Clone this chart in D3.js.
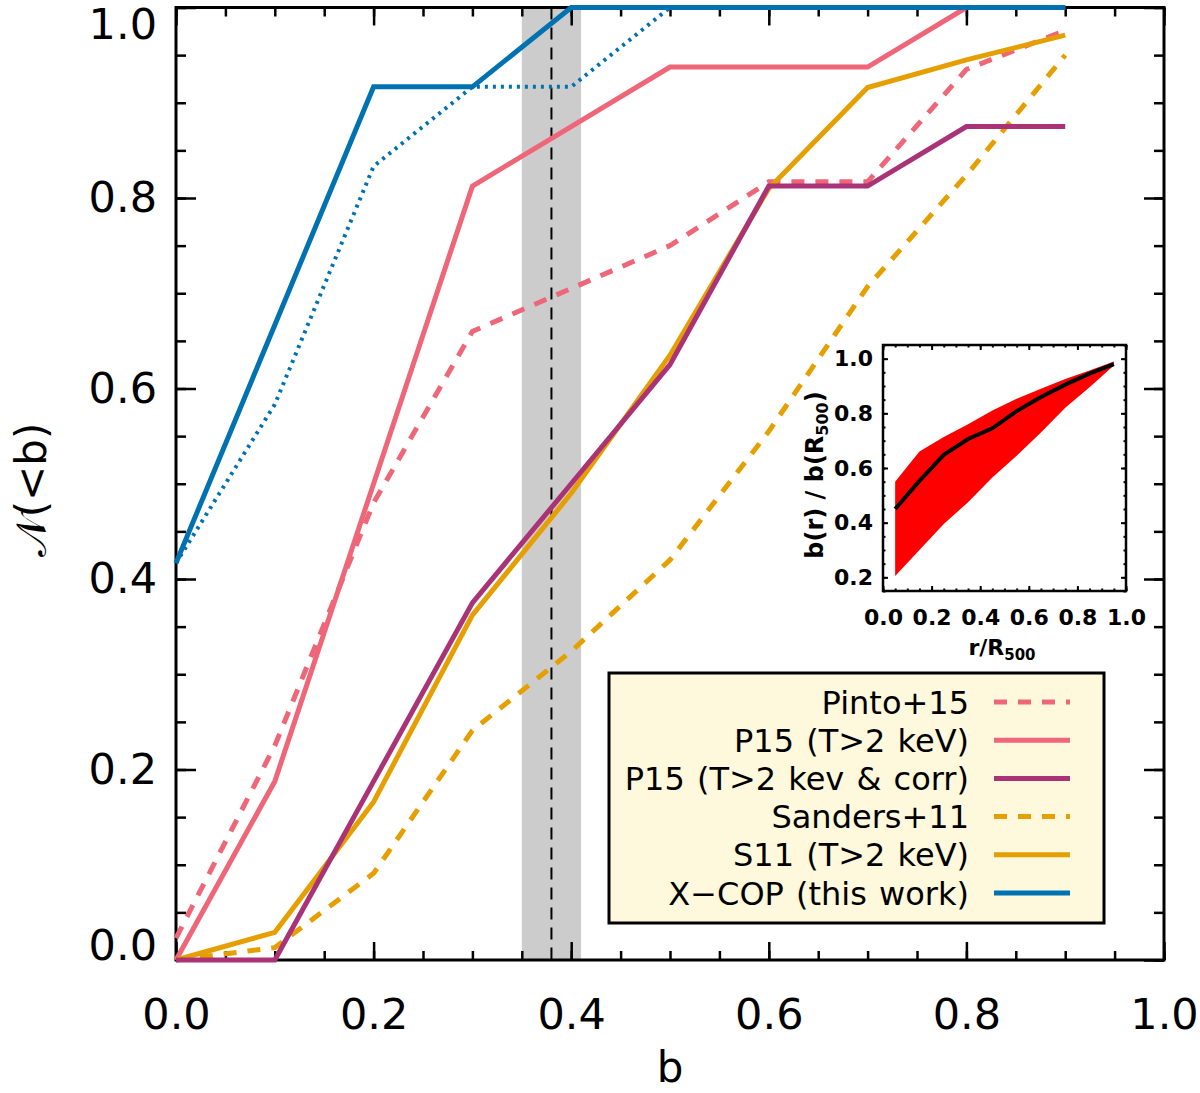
<!DOCTYPE html>
<html>
<head>
<meta charset="utf-8">
<script src="https://cdn.jsdelivr.net/npm/d3@7"></script>
<style>
  body { margin: 0; background: #fff; }
  text { font-family: "DejaVu Sans", sans-serif; }
</style>
</head>
<body>
<svg id="chart"></svg>
<script>
// b grid of the cumulative distributions
const bValues = [0, 0.1, 0.2, 0.3, 0.4, 0.5, 0.6, 0.7, 0.8, 0.9];

const pinto15   = [0.023, 0.225, 0.48, 0.66, 0.705, 0.75, 0.817, 0.817, 0.935, 0.976];
const p15T2     = [0, 0.1875, 0.5, 0.8125, 0.875, 0.9375, 0.9375, 0.9375, 1.0, 1.0];
const p15Corr   = [0, 0, 0.1875, 0.375, 0.5, 0.625, 0.8125, 0.8125, 0.875, 0.875];
const sanders11 = [0, 0.013, 0.091, 0.241, 0.324, 0.42, 0.555, 0.707, 0.824, 0.95];
const s11T2     = [0, 0.029, 0.166, 0.362, 0.49, 0.635, 0.81, 0.916, 0.945, 0.971];
const xcop      = [0.4167, 0.6667, 0.9167, 0.9167, 1, 1, 1, 1, 1, 1];
const xcopDot   = [0.4167, 0.5833, 0.8333, 0.9167, 0.9167, 1, 1, 1, 1, 1];

// grey band and its centre
const bandRange = [0.35, 0.41];
const bandMid = 0.38;

const legendLabels = ["Pinto+15", "P15 (T>2 keV)", "P15 (T>2 kev & corr)",
                      "Sanders+11", "S11 (T>2 keV)", "X\u2212COP (this work)"];

const mainTicks = [0, 0.2, 0.4, 0.6, 0.8, 1.0];

// inset: b(r)/b(R500)
const rValues  = [0.05, 0.15, 0.25, 0.35, 0.45, 0.55, 0.65, 0.75, 0.85, 0.95];
const bRatio   = [0.45, 0.553, 0.648, 0.706, 0.745, 0.808, 0.86, 0.905, 0.945, 0.98];
const bRatioHi = [0.55, 0.66, 0.713, 0.76, 0.81, 0.853, 0.89, 0.926, 0.957, 0.99];
const bRatioLo = [0.205, 0.30, 0.395, 0.475, 0.565, 0.645, 0.73, 0.82, 0.895, 0.975];
const insetXTicks = [0, 0.2, 0.4, 0.6, 0.8, 1.0];
const insetYTicks = [0.2, 0.4, 0.6, 0.8, 1.0];

const pink = "#EE6677", purple = "#AA3377", orange = "#E69F00", blue = "#0072B2";

const series = [
    {y: pinto15,   color: pink,   dash: "13,11", width: 5, legend: 0},
    {y: p15T2,     color: pink,   dash: null,    width: 5, legend: 1},
    {y: sanders11, color: orange, dash: "13,11", width: 5, legend: 3},
    {y: s11T2,     color: orange, dash: null,    width: 5, legend: 4},
    {y: p15Corr,   color: purple, dash: null,    width: 5, legend: 2},
    {y: xcopDot,   color: blue,   dash: "3,5",   width: 4, legend: null},
    {y: xcop,      color: blue,   dash: null,    width: 5, legend: 5}
];

const W = 1200, H = 1093;
const svg = d3.select("#chart").attr("width", W).attr("height", H);

const plot = {left: 176, right: 1164, top: 7.5, bottom: 960};

const x = d3.scaleLinear().domain([0, 1]).range([plot.left, plot.right]);
const y = d3.scaleLinear().domain([0, 1]).range([plot.bottom, plot.top]);

// band + dashed line
svg.append("rect")
    .attr("x", x(bandRange[0])).attr("y", plot.top)
    .attr("width", x(bandRange[1]) - x(bandRange[0]))
    .attr("height", plot.bottom - plot.top)
    .attr("fill", "#cccccc");

svg.append("line")
    .attr("x1", x(bandMid)).attr("x2", x(bandMid))
    .attr("y1", plot.top).attr("y2", plot.bottom)
    .attr("stroke", "#000").attr("stroke-width", 2)
    .attr("stroke-dasharray", "12,8");

// axes, ticks inward on all sides
const minorTicks = d3.range(0, 1.0001, 0.05).map(d => +d.toFixed(2));

function styleAxis(g) {
    g.select(".domain").remove();
    g.selectAll(".tick line").attr("stroke", "#000").attr("stroke-width", 2.5);
    g.selectAll(".tick text").attr("fill", "#000");
}

svg.append("g").attr("transform", `translate(0,${plot.bottom})`)
    .call(d3.axisBottom(x).tickValues(minorTicks).tickSize(-9).tickFormat(""))
    .call(styleAxis);
svg.append("g").attr("transform", `translate(0,${plot.bottom})`)
    .call(d3.axisBottom(x).tickValues(mainTicks).tickSize(-18).tickPadding(38).tickFormat(d3.format(".1f")))
    .call(styleAxis)
    .selectAll("text").attr("font-size", 43);
svg.append("g").attr("transform", `translate(0,${plot.top})`)
    .call(d3.axisTop(x).tickValues(minorTicks).tickSize(-9).tickFormat(""))
    .call(styleAxis);
svg.append("g").attr("transform", `translate(0,${plot.top})`)
    .call(d3.axisTop(x).tickValues(mainTicks).tickSize(-18).tickFormat(""))
    .call(styleAxis);

svg.append("g").attr("transform", `translate(${plot.left},0)`)
    .call(d3.axisLeft(y).tickValues(minorTicks).tickSize(-10).tickFormat(""))
    .call(styleAxis);
svg.append("g").attr("transform", `translate(${plot.left},0)`)
    .call(d3.axisLeft(y).tickValues(mainTicks).tickSize(-20).tickPadding(19).tickFormat(d3.format(".1f")))
    .call(styleAxis)
    .selectAll("text")
    .attr("font-size", 43)
    // end labels sit inside the frame, as in the original
    .attr("y", d => d === 1 ? 17 : d === 0 ? -14 : 0);
svg.append("g").attr("transform", `translate(${plot.right},0)`)
    .call(d3.axisRight(y).tickValues(minorTicks).tickSize(-10).tickFormat(""))
    .call(styleAxis);
svg.append("g").attr("transform", `translate(${plot.right},0)`)
    .call(d3.axisRight(y).tickValues(mainTicks).tickSize(-20).tickFormat(""))
    .call(styleAxis);

svg.append("rect")
    .attr("x", plot.left).attr("y", plot.top)
    .attr("width", plot.right - plot.left).attr("height", plot.bottom - plot.top)
    .attr("fill", "none").attr("stroke", "#000").attr("stroke-width", 3);

// series
const line = d3.line().x(d => x(d[0])).y(d => y(d[1]));
series.forEach(s => {
    svg.append("path")
        .datum(bValues.map((b, i) => [b, s.y[i]]))
        .attr("d", line)
        .attr("fill", "none")
        .attr("stroke", s.color)
        .attr("stroke-width", s.width)
        .attr("stroke-dasharray", s.dash)
        .attr("stroke-linejoin", "miter");
});

// axis titles
svg.append("text")
    .attr("x", (plot.left + plot.right) / 2).attr("y", 1082)
    .attr("text-anchor", "middle").attr("font-size", 42)
    .text("b");

svg.append("text")
    .attr("transform", "translate(46,490) rotate(-90)")
    .attr("text-anchor", "middle").attr("font-size", 42)
    .text("\u{1D4A9}(<b)");

// legend
const leg = {x0: 609, y0: 673, x1: 1104, y1: 923};
svg.append("rect")
    .attr("x", leg.x0).attr("y", leg.y0)
    .attr("width", leg.x1 - leg.x0).attr("height", leg.y1 - leg.y0)
    .attr("fill", "#FEF8DC").attr("stroke", "#000").attr("stroke-width", 3);

const rowY = d3.scaleLinear().domain([0, 5]).range([702, 893]);
series.filter(s => s.legend !== null).forEach(s => {
    const yy = rowY(s.legend);
    svg.append("text")
        .attr("x", 969).attr("y", yy).attr("dy", "0.36em")
        .attr("text-anchor", "end").attr("font-size", 32)
        .attr("word-spacing", 2)
        .text(legendLabels[s.legend]);
    svg.append("line")
        .attr("x1", 994).attr("x2", 1070).attr("y1", yy).attr("y2", yy)
        .attr("stroke", s.color).attr("stroke-width", 5)
        .attr("stroke-dasharray", s.dash);
});

// inset
const ins = {left: 883, right: 1126, top: 345, bottom: 591};
const ix = d3.scaleLinear().domain([0, 1]).range([ins.left, ins.right]);
const iy = d3.scaleLinear().domain([0.15, 1.05]).range([ins.bottom, ins.top]);

const inset = svg.append("g");

inset.append("path")
    .datum(rValues.map((r, i) => [r, bRatioLo[i], bRatioHi[i]]))
    .attr("d", d3.area().x(d => ix(d[0])).y0(d => iy(d[1])).y1(d => iy(d[2])))
    .attr("fill", "#ff0000");

inset.append("path")
    .datum(rValues.map((r, i) => [r, bRatio[i]]))
    .attr("d", d3.line().x(d => ix(d[0])).y(d => iy(d[1])))
    .attr("fill", "none").attr("stroke", "#000").attr("stroke-width", 4);

const insMinorX = d3.range(0, 1.0001, 0.05).map(d => +d.toFixed(2));
const insMinorY = d3.range(0.15, 1.0501, 0.05).map(d => +d.toFixed(2));

function insAxis(g) {
    g.select(".domain").remove();
    g.selectAll(".tick line").attr("stroke", "#000").attr("stroke-width", 2);
    g.selectAll(".tick text").attr("fill", "#000").attr("font-size", 22).attr("font-weight", "bold");
}

inset.append("g").attr("transform", `translate(0,${ins.bottom})`)
    .call(d3.axisBottom(ix).tickValues(insMinorX).tickSize(-2.5).tickFormat("")).call(insAxis);
inset.append("g").attr("transform", `translate(0,${ins.bottom})`)
    .call(d3.axisBottom(ix).tickValues(insetXTicks).tickSize(-5).tickPadding(18).tickFormat(d3.format(".1f"))).call(insAxis);
inset.append("g").attr("transform", `translate(0,${ins.top})`)
    .call(d3.axisTop(ix).tickValues(insMinorX).tickSize(-2.5).tickFormat("")).call(insAxis);
inset.append("g").attr("transform", `translate(0,${ins.top})`)
    .call(d3.axisTop(ix).tickValues(insetXTicks).tickSize(-5).tickFormat("")).call(insAxis);
inset.append("g").attr("transform", `translate(${ins.left},0)`)
    .call(d3.axisLeft(iy).tickValues(insMinorY).tickSize(-2.5).tickFormat("")).call(insAxis);
inset.append("g").attr("transform", `translate(${ins.left},0)`)
    .call(d3.axisLeft(iy).tickValues(insetYTicks).tickSize(-5).tickPadding(10).tickFormat(d3.format(".1f"))).call(insAxis);
inset.append("g").attr("transform", `translate(${ins.right},0)`)
    .call(d3.axisRight(iy).tickValues(insMinorY).tickSize(-2.5).tickFormat("")).call(insAxis);
inset.append("g").attr("transform", `translate(${ins.right},0)`)
    .call(d3.axisRight(iy).tickValues(insetYTicks).tickSize(-5).tickFormat("")).call(insAxis);

inset.append("rect")
    .attr("x", ins.left).attr("y", ins.top)
    .attr("width", ins.right - ins.left).attr("height", ins.bottom - ins.top)
    .attr("fill", "none").attr("stroke", "#000").attr("stroke-width", 2.5);

const xl = inset.append("text")
    .attr("x", 1002).attr("y", 655)
    .attr("text-anchor", "middle").attr("font-size", 22).attr("font-weight", "bold");
xl.append("tspan").text("r/R");
xl.append("tspan").attr("font-size", 15).attr("dy", 5).text("500");

const yl = inset.append("text")
    .attr("transform", "translate(823,475) rotate(-90)")
    .attr("text-anchor", "middle").attr("font-size", 24).attr("font-weight", "bold");
yl.append("tspan").text("b(r) / b(R");
yl.append("tspan").attr("font-size", 16).attr("dy", 5).text("500");
yl.append("tspan").attr("dy", -5).text(")");
</script>
</body>
</html>
